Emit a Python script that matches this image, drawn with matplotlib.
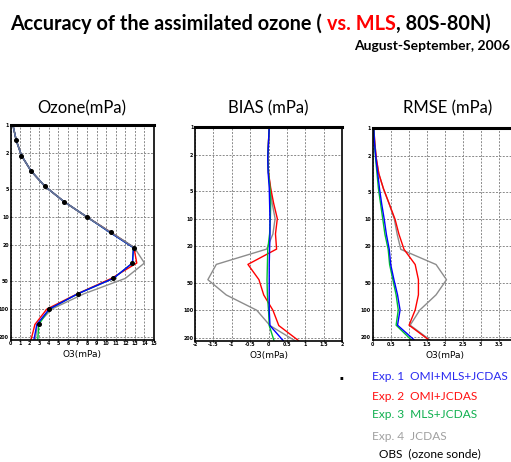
import matplotlib
matplotlib.use("Agg")
import matplotlib.pyplot as plt
from matplotlib.ticker import FixedLocator, FixedFormatter, NullLocator
from matplotlib import font_manager

# ---------------- data ----------------
pressure = [1.0, 1.47, 2.15, 3.16, 4.64, 6.81, 10.0, 14.7, 21.5, 31.6, 46.4, 68.1, 100.0, 147.0, 215.0]

# Ozone partial pressure (mPa)
oz_exp1 = [0.25, 0.6, 1.15, 2.15, 3.6, 5.6, 8.0, 10.4, 12.85, 12.75, 10.75, 7.05, 4.05, 2.75, 2.45]
oz_exp2 = [0.25, 0.6, 1.15, 2.15, 3.6, 5.6, 8.0, 10.5, 12.9, 13.2, 10.55, 7.0, 3.8, 2.55, 2.15]
oz_exp3 = [0.25, 0.6, 1.15, 2.15, 3.6, 5.6, 8.0, 10.4, 12.85, 12.75, 10.75, 7.05, 4.05, 2.95, 2.85]
oz_exp4 = [0.25, 0.6, 1.15, 2.15, 3.6, 5.6, 8.0, 10.5, 12.95, 14.0, 12.0, 7.7, 4.3, 2.8, 2.6]
obs_pressure = [1.47, 2.15, 3.16, 4.64, 6.81, 10.0, 14.7, 21.5, 31.6, 46.4, 68.1, 100.0, 147.0]
obs_ozone = [0.58, 1.13, 2.16, 3.6, 5.6, 8.0, 10.47, 12.87, 12.7, 10.74, 7.04, 4.05, 2.99]

# BIAS (mPa)
bias_exp1 = [0.02, 0.0, -0.02, -0.01, 0.02, 0.03, 0.04, 0.04, 0.03, 0.02, 0.02, 0.02, 0.02, 0.04, 0.4]
bias_exp2 = [0.02, 0.0, -0.02, 0.0, 0.06, 0.14, 0.24, 0.19, 0.22, -0.56, -0.26, -0.13, 0.12, 0.28, 0.82]
bias_exp3 = [0.02, 0.0, -0.02, 0.0, 0.04, 0.06, 0.05, 0.03, -0.02, -0.03, -0.04, -0.03, 0.0, 0.02, 0.15]
bias_exp4 = [0.02, 0.0, -0.02, 0.0, 0.05, 0.1, 0.18, 0.12, -0.05, -1.42, -1.65, -1.15, -0.32, 0.04, 0.72]

# RMSE (mPa)
rmse_exp1 = [0.03, 0.05, 0.09, 0.14, 0.19, 0.25, 0.32, 0.38, 0.46, 0.5, 0.59, 0.69, 0.76, 0.69, 1.16]
rmse_exp2 = [0.03, 0.06, 0.1, 0.17, 0.3, 0.46, 0.62, 0.73, 0.87, 1.18, 1.27, 1.27, 1.18, 1.01, 1.57]
rmse_exp3 = [0.03, 0.05, 0.08, 0.12, 0.16, 0.22, 0.28, 0.34, 0.43, 0.47, 0.56, 0.65, 0.71, 0.65, 1.08]
rmse_exp4 = [0.03, 0.06, 0.1, 0.17, 0.3, 0.46, 0.6, 0.68, 0.78, 1.76, 2.05, 1.76, 1.31, 1.04, 1.6]

p_ticks = [1, 2, 5, 10, 20, 50, 100, 200]
p_ticklabels = ["1", "2", "5", "10", "20", "50", "100", "200"]
oz_ticks = list(range(0, 16))
oz_ticklabels = [str(v) for v in oz_ticks]
bias_ticks = [-2, -1.5, -1, -0.5, 0, 0.5, 1, 1.5, 2]
bias_ticklabels = ["-2", "-1.5", "-1", "-0.5", "0", "0.5", "1", "1.5", "2"]
rmse_ticks = [0, 0.5, 1, 1.5, 2, 2.5, 3, 3.5]
rmse_ticklabels = ["0", "0.5", "1", "1.5", "2", "2.5", "3", "3.5"]

legend_labels = ["Exp. 1  OMI+MLS+JCDAS", "Exp. 2  OMI+JCDAS", "Exp. 3  MLS+JCDAS",
                 "Exp. 4  JCDAS", "OBS  (ozone sonde)"]

# ---------------- style ----------------
C_BLUE = "#0000ff"
C_RED = "#ff0000"
C_GREEN = "#00c030"
C_GRAY = "#8c8c8c"
LEG_COLORS = ["#2a2af0", "#ff1010", "#10b050", "#a0a0a0", "#000000"]
FAM = ["Lato", "DejaVu Sans"]
installed = {f.name for f in font_manager.fontManager.ttflist}
TICK_FAM = ["Liberation Sans Narrow"] if "Liberation Sans Narrow" in installed else ["DejaVu Sans"]
TICK_FS = 4.3 if TICK_FAM[0] == "Liberation Sans Narrow" else 3.4

W, H = 511, 462
fig = plt.figure(figsize=(W / 100, H / 100), dpi=100)


def px_axes(x0, x1, ytop, ybot):
    return fig.add_axes([x0 / W, 1 - ybot / H, (x1 - x0) / W, (ybot - ytop) / H])


def style_axes(ax, xlim, xticks, xticklabels, ybottom):
    ax.set_yscale("log")
    ax.set_ylim(ybottom, 1)
    ax.set_xlim(*xlim)
    ax.yaxis.set_major_locator(FixedLocator(p_ticks))
    ax.yaxis.set_major_formatter(FixedFormatter(p_ticklabels))
    ax.yaxis.set_minor_locator(NullLocator())
    ax.xaxis.set_major_locator(FixedLocator(xticks))
    ax.xaxis.set_major_formatter(FixedFormatter(xticklabels))
    ax.grid(True, which="major", color="#8a8a8a", linestyle=(0, (2, 1.5)), linewidth=0.7)
    ax.set_axisbelow(True)
    ax.tick_params(axis="both", labelsize=TICK_FS, length=0.8, width=0.8, pad=0.4, direction="out")
    for lab in ax.get_xticklabels() + ax.get_yticklabels():
        lab.set_fontweight("bold")
        lab.set_family(TICK_FAM)
    for s in ["left", "bottom", "right"]:
        ax.spines[s].set_linewidth(1.2)
    ax.spines["top"].set_linewidth(2.2)
    ax.set_xlabel("O3(mPa)", fontsize=6.5, labelpad=3)


def draw_series(ax, s1, s2, s3, s4):
    lw = 1.0
    ax.plot(s4, pressure, color=C_GRAY, lw=lw)
    ax.plot(s2, pressure, color=C_RED, lw=lw)
    ax.plot(s3, pressure, color=C_GREEN, lw=lw)
    ax.plot(s1, pressure, color=C_BLUE, lw=lw)


# Ozone panel
ax1 = px_axes(10.5, 154, 125, 339.5)
draw_series(ax1, oz_exp1, oz_exp2, oz_exp3, oz_exp4)
ax1.plot(oz_exp4[:9], pressure[:9], color="#6a7a90", lw=1.1)
ax1.plot(obs_ozone, obs_pressure, linestyle="none", marker="o", markersize=2.6, color="black")
style_axes(ax1, (0, 15), oz_ticks, oz_ticklabels, 214)

# BIAS panel
ax2 = px_axes(195, 342, 127, 340.5)
draw_series(ax2, bias_exp1, bias_exp2, bias_exp3, bias_exp4)
style_axes(ax2, (-2, 2), bias_ticks, bias_ticklabels, 214)

# RMSE panel
ax3 = px_axes(372.7, 516.7, 128.3, 340)
draw_series(ax3, rmse_exp1, rmse_exp2, rmse_exp3, rmse_exp4)
style_axes(ax3, (0, 4), rmse_ticks, rmse_ticklabels, 214)

# panel titles
title_font = dict(family=FAM, fontsize=12.0, ha="center", va="center")
fig.text(82 / W, 1 - 108 / H, "Ozone(mPa)", **title_font)
fig.text(268 / W, 1 - 108 / H, "BIAS (mPa)", **title_font)
fig.text(448 / W, 1 - 108 / H, "RMSE (mPa)", **title_font)

# main title with coloured part, fitted to span x=10..490 px
fig.canvas.draw()
renderer = fig.canvas.get_renderer()
parts = [("Accuracy of the assimilated ozone ( ", "black"), ("vs. MLS", "#ff0000"), (", 80S-80N)", "black")]
base_fs = 15.0
total = 0
for txt, col in parts:
    t = fig.text(0, 0, txt, fontsize=base_fs, fontweight="bold", family=FAM)
    total += t.get_window_extent(renderer=renderer).width
    t.remove()
fs = base_fs * 480.0 / total
x = 10
for txt, col in parts:
    t = fig.text(x / W, 1 - 30 / H, txt, color=col, fontsize=fs, fontweight="bold",
                 family=FAM, ha="left", va="baseline")
    x += t.get_window_extent(renderer=renderer).width

fig.text(510 / W, 1 - 50 / H, "August-September, 2006", fontsize=10, fontweight="bold",
         family=FAM, ha="right", va="baseline")

# legend text
leg_y = [377, 396, 415, 436, 454]
leg_x = [372, 372, 372, 372, 379]
for lab, col, yy, xx in zip(legend_labels, LEG_COLORS, leg_y, leg_x):
    fig.text(xx / W, 1 - yy / H, lab, color=col, fontsize=8.6,
             family=FAM, ha="left", va="center")
fig.text(341 / W, 1 - 378 / H, "\u25aa", fontsize=4, ha="center", va="center")

fig.savefig("out.png", dpi=100)
